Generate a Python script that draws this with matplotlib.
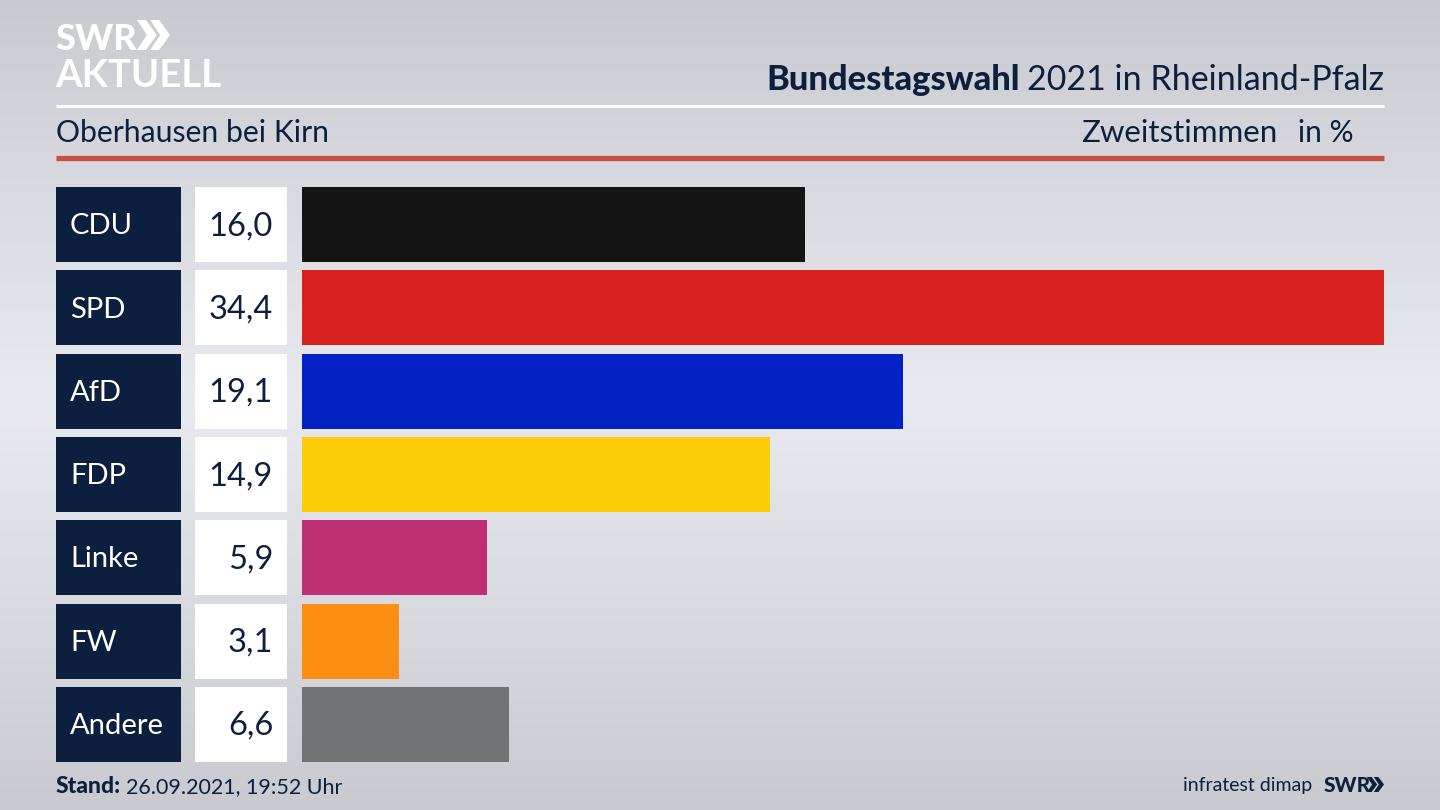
# -*- coding: utf-8 -*-
import numpy as np
import matplotlib
matplotlib.use('Agg')
import matplotlib.pyplot as plt
from matplotlib.patches import Polygon

parties = ['CDU', 'SPD', 'AfD', 'FDP', 'Linke', 'FW', 'Andere']
values = [16.0, 34.4, 19.1, 14.9, 5.9, 3.1, 6.6]
value_labels = ['16,0', '34,4', '19,1', '14,9', '5,9', '3,1', '6,6']
colors = ['#141414', '#d8201f', '#0222c6', '#fecd09', '#bf2f74', '#fe8d14', '#717274']

NAVY = '#0c1f3f'
W, H = 1440, 810
plt.rcParams['font.family'] = ['Lato', 'DejaVu Sans']


def axes_px(fig, x0, y0, x1, y1):
    # pixel box measured from the top left corner
    return fig.add_axes([x0 / W, 1 - y1 / H, (x1 - x0) / W, (y1 - y0) / H])


def chevrons(ax, x, y, w, h, color='white'):
    # two arrows of the SWR logo
    cw = w * 0.6
    for dx in (0, w - cw):
        pts = [(x + dx, y), (x + dx + cw * 0.45, y), (x + dx + cw, y + h / 2),
               (x + dx + cw * 0.45, y + h), (x + dx, y + h), (x + dx + cw * 0.5, y + h / 2)]
        ax.add_patch(Polygon(pts, closed=True, color=color, lw=0, zorder=3))


fig = plt.figure(figsize=(14.4, 8.1), dpi=100)

# background and header live in one axes in pixel units
bg = axes_px(fig, 0, 0, W, H)
stops_y = [0, 120, 400, 680, 810]
stops_v = [0.785, 0.825, 0.91, 0.825, 0.785]
grad = np.interp(np.arange(H), stops_y, stops_v)
rgb = np.stack([grad, grad + 0.008, grad + 0.03], axis=1)[:, None, :]
bg.imshow(np.clip(rgb, 0, 1), aspect='auto', extent=[0, W, H, 0], zorder=0)
bg.set_xlim(0, W)
bg.set_ylim(H, 0)
bg.axis('off')

bg.plot([56, 1384], [105.5, 105.5], color='white', lw=2.2, solid_capstyle='butt')
bg.plot([56, 1384], [157.5, 157.5], color='#c9503f', lw=3.8, solid_capstyle='butt')

# logo top left
bg.text(55, 50, 'SWR', color='white', fontsize=26, fontweight='black', ha='left', va='baseline')
chevrons(bg, 137, 20, 33, 30)
bg.text(55, 87, 'AKTUELL', color='white', fontsize=27.5, fontweight='bold', ha='left', va='baseline')

# titles
bg.text(1384, 90, '2021 in Rheinland-Pfalz', color=NAVY, fontsize=24.5, ha='right', va='baseline')
bg.text(1020, 90, 'Bundestagswahl', color=NAVY, fontsize=24.8, fontweight='black', ha='right', va='baseline')
bg.text(56, 142, 'Oberhausen bei Kirn', color=NAVY, fontsize=21.7, ha='left', va='baseline')
bg.text(1277, 142, 'Zweitstimmen', color=NAVY, fontsize=22.5, ha='right', va='baseline')
bg.text(1354, 142, 'in %', color=NAVY, fontsize=21.5, ha='right', va='baseline')

# footer
bg.text(56, 793, 'Stand:', color=NAVY, fontsize=16.5, fontweight='black', ha='left', va='baseline')
bg.text(126, 793, '26.09.2021, 19:52 Uhr', color=NAVY, fontsize=15.5, ha='left', va='baseline')
bg.text(1312, 791, 'infratest dimap', color=NAVY, fontsize=14, ha='right', va='baseline')
bg.text(1324, 792, 'SWR', color=NAVY, fontsize=15, fontweight='black', ha='left', va='baseline')
chevrons(bg, 1367, 777, 17, 15, color=NAVY)

ypos = np.arange(len(parties))
top, bottom = 183, 766

# label column
lab = axes_px(fig, 56, top, 287, bottom)
lab.barh(ypos, [125] * len(parties), left=0, height=0.9, color=NAVY)
lab.barh(ypos, [92] * len(parties), left=139, height=0.9, color='white')
lab.set_xlim(0, 231)
lab.set_ylim(len(parties) - 0.5, -0.5)
lab.axis('off')
for i, (p, v) in enumerate(zip(parties, value_labels)):
    lab.text(14, i + 0.02, p, color='white', fontsize=21, ha='left', va='center')
    lab.text(217, i + 0.02, v, color=NAVY, fontsize=23.5, ha='right', va='center')

# bars
ax = axes_px(fig, 301.6, top, 1384, bottom)
ax.barh(ypos, values, height=0.9, color=colors)
ax.set_xlim(0, max(values))
ax.set_ylim(len(parties) - 0.5, -0.5)
ax.axis('off')

fig.savefig('out.png', dpi=100)
